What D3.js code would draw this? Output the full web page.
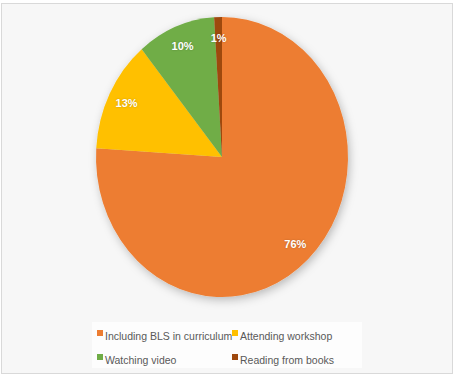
<!DOCTYPE html>
<html>
<head>
<meta charset="utf-8">
<script src="https://cdn.jsdelivr.net/npm/d3@7"></script>
<style>
  body { margin: 0; background: #fff; }
  text { font-family: "Liberation Sans", sans-serif; }
</style>
</head>
<body>
<script>
// データ
var categories = ["Including BLS in curriculum", "Attending workshop", "Watching video", "Reading from books"];
var values = [76, 13, 10, 1];
var labels = ["76%", "13%", "10%", "1%"];
var colors = ["#ED7D31", "#FFC000", "#70AD47", "#9E480E"];

var fullWidth = 455, fullHeight = 376;
var cx = 222, cy = 157, rx = 126, ry = 140;

var svg = d3.select("body").append("svg")
    .attr("width", fullWidth)
    .attr("height", fullHeight);

// 影
var defs = svg.append("defs");
defs.append("filter")
    .attr("id", "shadow")
    .attr("x", "-20%").attr("y", "-20%")
    .attr("width", "140%").attr("height", "140%")
    .append("feDropShadow")
    .attr("dx", 2).attr("dy", 3)
    .attr("stdDeviation", 5)
    .attr("flood-color", "#000")
    .attr("flood-opacity", 0.25);

// 背景と枠
svg.append("rect")
    .attr("x", 1.5).attr("y", 3.5)
    .attr("width", 451).attr("height", 370)
    .attr("fill", "#f7f7f7")
    .attr("stroke", "#d9d9d9");

// 凡例の枠
svg.append("rect")
    .attr("x", 92).attr("y", 322)
    .attr("width", 270).attr("height", 46)
    .attr("fill", "#fdfdfd");

var pie = d3.pie().sort(null).value(d => d);
var arcs = pie(values);

// 楕円にするため縦の半径で描いて横方向に縮める
var arc = d3.arc().innerRadius(0).outerRadius(ry);

var g = svg.append("g")
    .attr("transform", "translate(" + cx + "," + cy + ") scale(" + (rx / ry) + ",1)");

g.append("g")
    .attr("filter", "url(#shadow)")
    .selectAll("path")
    .data(arcs)
    .enter().append("path")
    .attr("d", arc)
    .attr("fill", (d, i) => colors[i]);

// ラベル
var labelArc = d3.arc().innerRadius(ry * 0.85).outerRadius(ry * 0.85);
svg.append("g")
    .selectAll("text")
    .data(arcs)
    .enter().append("text")
    .attr("x", d => cx + labelArc.centroid(d)[0] * rx / ry)
    .attr("y", d => cy + labelArc.centroid(d)[1])
    .attr("text-anchor", "middle")
    .attr("dominant-baseline", "central")
    .attr("fill", "#fff")
    .attr("font-size", 11)
    .attr("font-weight", "bold")
    .style("text-shadow", "0 0 2px rgba(0,0,0,0.25)")
    .text((d, i) => labels[i]);

// 凡例
var legendX = [97, 232], legendY = [336, 360];
var legend = svg.append("g")
    .selectAll("g")
    .data(categories)
    .enter().append("g")
    .attr("transform", (d, i) => "translate(" + legendX[i % 2] + "," + legendY[Math.floor(i / 2)] + ")");

legend.append("rect")
    .attr("x", 0).attr("y", -6)
    .attr("width", 6).attr("height", 6)
    .attr("fill", (d, i) => colors[i]);

legend.append("text")
    .attr("x", 8).attr("y", 0)
    .attr("dominant-baseline", "central")
    .attr("fill", "#595959")
    .attr("font-size", 10.5)
    .text(d => d);
</script>
</body>
</html>
